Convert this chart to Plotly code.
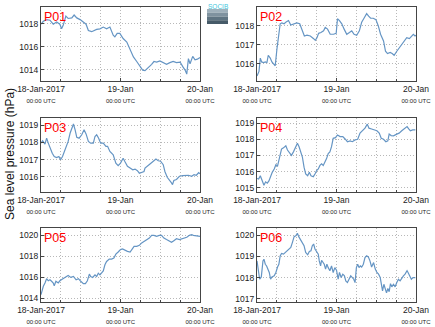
import pandas as pd
import plotly.graph_objects as go

# ---- station series: hours after 18-Jan-2017 00:00 UTC and sea level pressure (hPa)
p01_hours = [0.0, 0.7, 1.7, 2.7, 3.7, 4.7, 5.7, 6.2, 6.7, 7.5, 8.2, 9.3, 10.0, 10.8, 11.8, 12.8, 13.6, 14.3, 15.3, 16.8,
             17.8, 18.8, 19.8, 20.8, 21.8, 22.3, 23.0, 23.8, 24.8, 25.9, 26.9, 27.9, 28.9, 29.9, 30.7, 31.4, 32.4, 33.4, 34.1, 34.9,
             35.9, 36.9, 37.9, 38.9, 39.9, 40.9, 42.0, 42.8, 43.5, 44.0, 44.5, 45.0, 45.8, 46.5, 47.2, 48.0]
p01_slp = [1017.95, 1018.2, 1018.35, 1018.3, 1017.95, 1018.15, 1017.95, 1017.55, 1017.85, 1018.65,
           1018.45, 1018.5, 1018.75, 1018.5, 1018.35, 1018.15, 1017.95, 1017.4, 1017.3, 1017.5,
           1017.55, 1017.7, 1017.55, 1017.7, 1017.0, 1016.85, 1017.15, 1017.15, 1016.7, 1016.4,
           1015.8, 1015.1, 1014.7, 1014.25, 1013.95, 1013.9, 1014.15, 1014.45, 1014.7, 1014.65,
           1014.75, 1014.6, 1014.45, 1014.6, 1014.7, 1014.6, 1014.65, 1014.25, 1013.95, 1013.6,
           1014.95, 1014.5, 1015.15, 1014.85, 1014.9, 1015.05]

p02_hours = [0.0, 0.6, 1.0, 1.4, 2.0, 2.5, 3.0, 3.4, 4.0, 4.5, 5.0, 5.5, 6.0, 6.5, 7.0, 7.5, 8.2, 8.8, 9.5, 10.2,
             11.0, 12.0, 12.9, 13.6, 14.3, 15.1, 16.1, 17.1, 17.6, 18.1, 18.6, 19.3, 20.1, 20.6, 21.3, 22.1, 23.1, 23.9, 24.3, 24.9,
             25.6, 26.3, 27.1, 27.9, 28.6, 29.3, 30.1, 30.9, 31.6, 32.3, 33.1, 33.7, 34.3, 35.1, 35.9, 36.6, 37.3, 38.2, 38.8, 39.4,
             40.2, 40.8, 41.4, 42.2, 43.0, 43.8, 44.6, 45.2, 46.0, 46.6, 47.2, 47.7, 48.0]
p02_slp = [1015.36, 1015.6, 1016.3, 1016.1, 1016.07, 1016.1, 1016.07, 1016.45, 1016.3, 1016.1,
           1016.0, 1015.9, 1016.75, 1017.46, 1018.1, 1018.15, 1018.1, 1018.2, 1018.27, 1018.03,
           1018.1, 1018.15, 1018.1, 1017.73, 1017.46, 1017.5, 1017.46, 1017.32, 1017.23, 1017.37,
           1017.6, 1017.64, 1017.73, 1017.91, 1017.82, 1017.55, 1017.55, 1017.6, 1018.36, 1018.27,
           1018.1, 1017.82, 1017.55, 1017.64, 1017.73, 1017.55, 1017.5, 1017.73, 1018.18, 1018.39,
           1018.63, 1018.5, 1018.39, 1018.39, 1018.32, 1018.0, 1017.55, 1017.2, 1016.66, 1016.54,
           1016.6, 1016.54, 1016.45, 1016.66, 1016.84, 1017.02, 1017.2, 1017.37, 1017.32, 1017.43,
           1017.55, 1017.46, 1017.5]

p03_hours = [0.0, 0.5, 1.2, 1.7, 2.2, 2.7, 3.4, 4.0, 4.7, 5.4, 5.9, 6.5, 7.2, 7.7, 8.2, 8.8, 9.3, 9.8, 10.3, 10.8,
             11.5, 12.3, 13.0, 13.6, 14.3, 15.0, 15.8, 16.3, 16.8, 17.4, 18.0, 18.8, 19.6, 20.1, 20.8, 21.8, 22.6, 23.3, 24.0, 24.8,
             25.4, 26.1, 26.9, 27.7, 28.4, 29.1, 29.7, 30.4, 31.1, 31.4, 32.1, 32.9, 33.9, 34.7, 35.4, 36.1, 36.9, 37.4, 38.1, 38.7,
             39.4, 39.7, 40.1, 40.9, 41.8, 42.8, 43.6, 44.5, 45.5, 46.2, 46.9, 47.6, 48.0]
p03_slp = [1017.96, 1018.1, 1017.9, 1018.25, 1017.96, 1017.67, 1017.37, 1017.18, 1017.12, 1017.18,
           1016.99, 1017.18, 1017.57, 1017.86, 1018.06, 1018.55, 1018.84, 1019.08, 1018.74, 1018.3,
           1018.25, 1018.45, 1018.74, 1018.5, 1018.06, 1017.96, 1017.96, 1018.35, 1018.45, 1018.25,
           1017.96, 1017.96, 1017.77, 1017.77, 1017.47, 1017.28, 1016.79, 1016.64, 1016.79, 1017.08,
           1016.85, 1016.6, 1016.5, 1016.4, 1016.44, 1016.35, 1016.2, 1016.24, 1016.3, 1016.5,
           1016.64, 1016.74, 1016.9, 1017.03, 1016.93, 1016.9, 1016.7, 1016.3, 1015.96, 1015.83,
           1015.63, 1015.53, 1015.77, 1015.83, 1016.02, 1016.06, 1016.08, 1016.08, 1016.02, 1016.12,
           1016.08, 1016.24, 1016.17]

p04_hours = [0.0, 0.5, 1.0, 1.5, 2.1, 2.6, 3.1, 3.6, 4.1, 4.6, 5.2, 5.7, 6.2, 6.6, 7.0, 7.4, 8.0, 8.7, 9.2, 9.9,
             10.4, 11.0, 11.6, 12.2, 12.7, 13.2, 13.7, 14.2, 14.7, 15.3, 15.8, 16.3, 17.0, 17.5, 18.0, 18.5, 19.0, 19.5, 20.0, 20.5,
             21.0, 21.5, 22.0, 22.5, 23.0, 23.7, 24.3, 25.1, 25.9, 26.6, 27.3, 28.1, 28.8, 29.6, 30.4, 31.1, 31.8, 32.6, 33.3, 33.8,
             34.6, 35.5, 36.2, 36.9, 37.5, 38.2, 38.9, 39.5, 39.9, 40.5, 41.2, 42.2, 42.9, 43.7, 44.5, 45.3, 45.8, 46.3, 47.0, 47.8]
p04_slp = [1015.57, 1015.53, 1015.74, 1015.42, 1015.15, 1015.36, 1015.28, 1015.42, 1015.74, 1015.95,
           1016.16, 1016.42, 1016.34, 1016.69, 1017.22, 1017.39, 1017.47, 1017.6, 1017.33, 1017.12,
           1017.0, 1017.22, 1017.54, 1017.75, 1017.54, 1017.22, 1016.9, 1016.27, 1015.85, 1015.74,
           1015.95, 1015.74, 1015.68, 1015.85, 1016.06, 1016.16, 1016.38, 1016.48, 1016.38, 1016.59,
           1016.8, 1017.12, 1017.22, 1017.54, 1018.06, 1018.1, 1018.27, 1018.17, 1018.17, 1018.02,
           1017.85, 1017.9, 1017.85, 1017.96, 1018.0, 1018.38, 1018.53, 1018.69, 1018.94, 1018.69,
           1018.64, 1018.58, 1018.53, 1018.38, 1018.06, 1018.0, 1017.85, 1017.9, 1018.32, 1018.23,
           1018.21, 1018.32, 1018.38, 1018.53, 1018.64, 1018.79, 1018.64, 1018.53, 1018.58, 1018.58]

p05_hours = [0.0, 0.3, 0.7, 1.2, 1.7, 2.2, 2.7, 3.2, 3.7, 4.0, 4.5, 5.2, 5.7, 6.5, 7.2, 7.7, 8.2, 9.0, 9.8, 10.6,
             11.3, 12.0, 12.8, 13.4, 14.0, 14.6, 15.0, 15.6, 16.3, 16.8, 17.3, 17.8, 18.3, 18.8, 19.3, 19.8, 20.6, 21.3, 22.0, 22.6,
             23.3, 24.0, 24.6, 25.4, 26.1, 26.9, 27.7, 28.1, 28.9, 29.7, 30.4, 31.1, 31.9, 32.7, 33.4, 34.1, 34.9, 35.7, 36.4, 37.1,
             37.9, 38.7, 39.4, 40.1, 40.9, 41.8, 42.5, 43.2, 44.0, 44.8, 45.5, 46.0, 46.5, 47.2, 48.0]
p05_slp = [1014.32, 1014.8, 1015.12, 1015.44, 1015.85, 1015.65, 1015.74, 1015.6, 1015.44, 1015.18,
           1015.6, 1015.44, 1015.65, 1015.82, 1015.97, 1016.06, 1016.16, 1015.97, 1016.06, 1015.74,
           1015.85, 1015.6, 1015.37, 1015.37, 1015.65, 1016.29, 1016.06, 1015.97, 1016.22, 1016.06,
           1016.38, 1016.22, 1016.48, 1016.6, 1017.18, 1017.5, 1017.73, 1017.73, 1017.82, 1018.2,
           1018.4, 1018.63, 1018.69, 1018.53, 1018.47, 1018.4, 1018.79, 1018.95, 1018.95, 1019.04,
           1019.27, 1019.43, 1019.59, 1019.74, 1020.0, 1020.0, 1019.9, 1020.0, 1020.0, 1019.74,
           1019.59, 1019.43, 1019.33, 1019.49, 1019.68, 1019.59, 1019.65, 1019.74, 1019.81, 1020.0,
           1020.06, 1020.0, 1019.97, 1019.97, 1019.9]

p06_hours = [0.0, 0.3, 0.8, 1.3, 1.8, 2.1, 2.5, 2.9, 3.3, 3.7, 4.1, 4.5, 5.2, 5.7, 6.2, 6.6, 7.0, 7.4, 8.0, 8.6,
             9.2, 9.6, 10.2, 10.7, 11.2, 11.7, 12.2, 12.6, 13.2, 13.7, 14.2, 14.7, 15.3, 15.8, 16.3, 16.7, 17.1, 17.5, 18.0, 18.5,
             18.8, 19.2, 19.5, 19.9, 20.3, 20.7, 21.1, 21.5, 22.0, 22.5, 23.0, 23.5, 24.0, 24.5, 24.9, 25.4, 25.9, 26.4, 26.8, 27.3,
             27.8, 28.3, 28.8, 29.2, 29.6, 30.0, 30.4, 30.8, 31.2, 31.6, 32.1, 32.6, 33.1, 33.6, 34.1, 34.6, 35.2, 35.7, 36.2, 36.7,
             37.2, 37.5, 37.9, 38.3, 38.7, 39.1, 39.5, 39.9, 40.3, 40.7, 41.2, 41.7, 42.2, 42.7, 43.2, 43.7, 44.2, 44.7, 45.3, 45.6,
             46.1, 46.6, 47.1, 47.8]
p06_slp = [1018.79, 1018.4, 1017.92, 1018.03, 1018.79, 1018.87, 1018.63, 1018.55, 1018.4, 1018.24,
           1017.92, 1018.03, 1018.08, 1018.24, 1018.5, 1018.63, 1019.03, 1019.14, 1019.11, 1019.19,
           1019.27, 1019.35, 1019.43, 1019.67, 1019.94, 1019.98, 1020.1, 1019.94, 1019.78, 1019.67,
           1019.51, 1019.19, 1019.08, 1019.24, 1019.27, 1019.51, 1019.59, 1019.35, 1019.24, 1019.11,
           1018.79, 1018.55, 1018.82, 1018.71, 1018.63, 1018.4, 1018.63, 1018.47, 1018.32, 1018.55,
           1018.24, 1018.47, 1018.35, 1017.92, 1018.24, 1018.0, 1018.16, 1018.08, 1017.84, 1017.76,
           1017.92, 1018.08, 1018.0, 1017.92, 1017.76, 1018.47, 1018.63, 1018.47, 1018.55, 1018.5,
           1018.63, 1018.95, 1019.03, 1018.98, 1018.79, 1018.5, 1018.71, 1018.4, 1018.24, 1018.16,
           1018.0, 1017.6, 1017.37, 1017.68, 1017.44, 1017.27, 1017.48, 1017.33, 1017.71, 1017.56,
           1017.68, 1017.56, 1017.76, 1017.92, 1017.84, 1018.0, 1018.08, 1018.16, 1018.32, 1018.24,
           1018.03, 1017.92, 1018.0, 1018.0]

station_names = ["P01", "P02", "P03", "P04", "P05", "P06"]
station_hours = [p01_hours, p02_hours, p03_hours, p04_hours, p05_hours, p06_hours]
station_slp = [p01_slp, p02_slp, p03_slp, p04_slp, p05_slp, p06_slp]
y_ranges = [[1013.0, 1019.45], [1015.1, 1018.98], [1015.1, 1019.43],
            [1014.73, 1019.32], [1013.62, 1020.7], [1016.84, 1020.35]]
y_ticks = [[1014, 1016, 1018], [1016, 1017, 1018], [1016, 1017, 1018, 1019],
           [1015, 1016, 1017, 1018, 1019], [1014, 1016, 1018, 1020], [1017, 1018, 1019, 1020]]
x_tick_dates = ["2017-01-18", "2017-01-19", "2017-01-20"]
x_tick_main = ["18-Jan-2017", "19-Jan", "20-Jan"]
x_tick_sub = "00:00 UTC"

W, H = 435, 327
FONT = "Liberation Sans, Arial, Helvetica, sans-serif"
LINE_COLOR = "#6595c4"
FRAME = "#454545"
GRID = "#b8b8b8"
GRID_DASH = "1px,2px"

col_x = [(41, 200), (257, 416)]
row_y = [(7, 81), (118, 192), (228, 302)]

start = pd.Timestamp("2017-01-18 00:00")
fig = go.Figure()
layout = {}
for i, name in enumerate(station_names):
    r, c = divmod(i, 2)
    n = i + 1
    xa = "xaxis" if n == 1 else f"xaxis{n}"
    ya = "yaxis" if n == 1 else f"yaxis{n}"
    xref = "x" if n == 1 else f"x{n}"
    yref = "y" if n == 1 else f"y{n}"
    times = start + pd.to_timedelta(station_hours[i], unit="h")
    fig.add_trace(go.Scatter(x=times, y=station_slp[i], mode="lines",
                             line=dict(color=LINE_COLOR, width=1.2),
                             xaxis=xref, yaxis=yref, showlegend=False))
    x0, x1 = col_x[c]
    y0, y1 = row_y[r]
    ticktext = [f"{m}<br><span style='font-size:6px'>{x_tick_sub}</span>" for m in x_tick_main]
    layout[xa] = dict(
        domain=[x0 / W, x1 / W], anchor=yref, type="date", automargin=False,
        range=[x_tick_dates[0], x_tick_dates[-1]],
        tickvals=x_tick_dates, ticktext=ticktext, tickangle=0,
        tickfont=dict(family=FONT, size=8.5, color="#222"),
        showline=True, mirror=True, linecolor=FRAME, linewidth=1.2,
        ticks="inside", ticklen=3, tickcolor=FRAME, tickwidth=1,
        showgrid=True, gridcolor=GRID, griddash=GRID_DASH, gridwidth=1,
        minor=dict(dtick=6 * 3600 * 1000, showgrid=True, gridcolor=GRID,
                   griddash=GRID_DASH, gridwidth=1, ticks="inside", ticklen=2, tickcolor=FRAME),
        zeroline=False, fixedrange=True,
    )
    layout[ya] = dict(
        domain=[1 - y1 / H, 1 - y0 / H], anchor=xref, automargin=False,
        range=y_ranges[i], tickvals=y_ticks[i],
        tickfont=dict(family=FONT, size=8.5, color="#222"),
        showline=True, mirror=True, linecolor=FRAME, linewidth=1.2,
        ticks="inside", ticklen=3, tickcolor=FRAME, tickwidth=1,
        showgrid=True, gridcolor=GRID, griddash=GRID_DASH, gridwidth=1,
        zeroline=False, fixedrange=True,
    )

annotations = []
for i, name in enumerate(station_names):
    r, c = divmod(i, 2)
    annotations.append(dict(
        text=name, xref="paper", yref="paper",
        x=(col_x[c][0] + 1) / W, y=1 - (row_y[r][0] + 1) / H,
        xanchor="left", yanchor="top", showarrow=False,
        font=dict(family=FONT, size=12.5, color="#ff0000"),
    ))

annotations.append(dict(
    text="Sea level pressure (hPa)", xref="paper", yref="paper",
    x=10 / W, y=1 - 154 / H, textangle=-90, showarrow=False,
    xanchor="center", yanchor="middle",
    font=dict(family=FONT, size=12, color="#111"),
))

# small institutional logo in the top gap between the columns
annotations.append(dict(
    text="SOCIB", xref="paper", yref="paper",
    x=217.5 / W, y=1 - 6 / H, showarrow=False, xanchor="center", yanchor="middle",
    font=dict(family=FONT, size=6.5, color="#3fc6dc"),
))
shapes = []
logo_bands = ["#9fb0bb", "#7f929f", "#5f7482", "#465a68"]
band_h = 15 / len(logo_bands)
for k, col in enumerate(logo_bands):
    yt = 9 + k * band_h
    shapes.append(dict(type="rect", xref="paper", yref="paper",
                       x0=207 / W, x1=228 / W, y0=1 - (yt + band_h) / H, y1=1 - yt / H,
                       fillcolor=col, line=dict(width=0), layer="above"))

fig.update_layout(
    width=W, height=H, margin=dict(l=0, r=0, t=0, b=0, autoexpand=False),
    paper_bgcolor="white", plot_bgcolor="white",
    annotations=annotations, shapes=shapes,
    **layout,
)

fig.write_html("out.html")
